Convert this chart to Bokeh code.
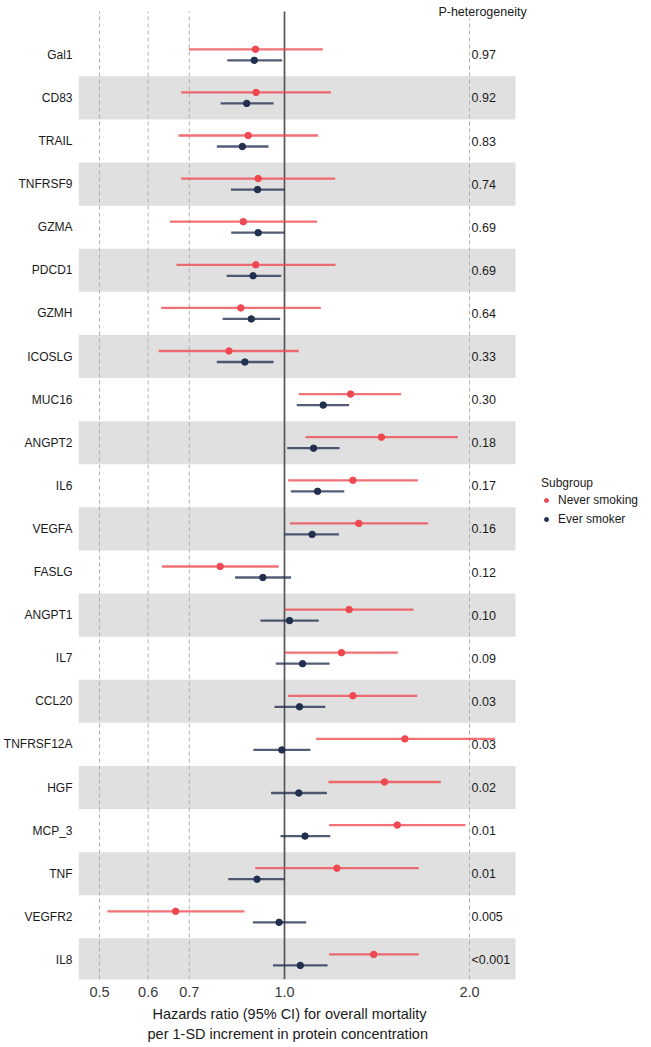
import math
from bokeh.plotting import figure
from bokeh.models import (ColumnDataSource, Range1d, FixedTicker, CustomJSTickFormatter,
                          Legend, LegendItem, Label, Title)
from bokeh.core.properties import value
from bokeh.embed import file_html
from bokeh.resources import INLINE

# ---------------- data ----------------
proteins = ["Gal1", "CD83", "TRAIL", "TNFRSF9", "GZMA", "PDCD1", "GZMH", "ICOSLG",
            "MUC16", "ANGPT2", "IL6", "VEGFA", "FASLG", "ANGPT1", "IL7", "CCL20",
            "TNFRSF12A", "HGF", "MCP_3", "TNF", "VEGFR2", "IL8"]

never_hr = [0.897, 0.899, 0.873, 0.906, 0.857, 0.898, 0.849, 0.812, 1.281, 1.438, 1.292,
            1.321, 0.786, 1.274, 1.238, 1.292, 1.570, 1.455, 1.526, 1.217, 0.665, 1.397]
never_lo = [0.699, 0.679, 0.672, 0.679, 0.651, 0.667, 0.630, 0.624, 1.055, 1.082, 1.014,
            1.020, 0.632, 1.001, 1.001, 1.014, 1.126, 1.179, 1.182, 0.896, 0.515, 1.182]
never_hi = [1.154, 1.190, 1.134, 1.209, 1.130, 1.211, 1.146, 1.055, 1.548, 1.914, 1.648,
            1.713, 0.978, 1.622, 1.529, 1.644, 2.200, 1.796, 1.969, 1.653, 0.861, 1.653]

ever_hr = [0.893, 0.868, 0.854, 0.904, 0.906, 0.889, 0.883, 0.862, 1.156, 1.115, 1.132,
           1.109, 0.922, 1.019, 1.070, 1.058, 0.990, 1.055, 1.080, 0.902, 0.980, 1.061]
ever_lo = [0.807, 0.787, 0.776, 0.818, 0.819, 0.805, 0.793, 0.776, 1.047, 1.010, 1.024,
           1.001, 0.831, 0.914, 0.968, 0.963, 0.890, 0.951, 0.985, 0.810, 0.888, 0.958]
ever_hi = [0.991, 0.960, 0.942, 1.000, 1.000, 0.988, 0.984, 0.960, 1.274, 1.229, 1.251,
           1.226, 1.025, 1.137, 1.184, 1.165, 1.102, 1.172, 1.187, 1.000, 1.085, 1.175]

p_het = ["0.97", "0.92", "0.83", "0.74", "0.69", "0.69", "0.64", "0.33", "0.30", "0.18",
         "0.17", "0.16", "0.12", "0.10", "0.09", "0.03", "0.03", "0.02", "0.01", "0.01",
         "0.005", "<0.001"]

x_ticks = [0.5, 0.6, 0.7, 1.0, 2.0]
dashed_refs = [0.5, 0.6, 0.7, 2.0]
null_ref = 1.0
subgroups = ["Never smoking", "Ever smoker"]
x_title_lines = ["Hazards ratio (95% CI) for overall mortality",
                 "per 1-SD increment in protein concentration"]
p_header = "P-heterogeneity"
legend_title = "Subgroup"

# ---------------- layout ----------------
n = len(proteins)
ys = [n - 1 - i for i in range(n)]
off = 0.128

FW, FH = 572, 979          # frame size
left_border = 77
px_per_ln = 266.9
x_one_px = 206             # frame px of HR = 1.0
x_start = math.exp((0 - x_one_px) / px_per_ln)
x_end = math.exp((FW - x_one_px) / px_per_ln)
band_right = math.exp((437 - x_one_px) / px_per_ln)
row_px = 43.1
first_row_px = 54.3
y_hi = 21 + first_row_px / row_px
y_lo = y_hi - FH / row_px
line_top = 21 + (first_row_px - 11) / row_px

FONT = "Liberation Sans"
RED = "#EE4850"
NAVY = "#22304F"
TXT = "#1A1A1A"

p = figure(frame_width=FW, frame_height=FH, x_axis_type="log",
           x_range=Range1d(x_start, x_end), y_range=Range1d(y_lo, y_hi),
           min_border_left=left_border, min_border_right=0, min_border_top=0,
           min_border_bottom=0, output_backend="svg", toolbar_location=None)
p.outline_line_color = None
p.grid.visible = False
p.background_fill_color = "white"

# bands
band_y = [ys[i] for i in range(n) if i % 2 == 1]
p.quad(left=x_start, right=band_right, bottom=[y - 0.5 for y in band_y],
       top=[y + 0.5 for y in band_y], fill_color="#E0E0E0", line_color=None)

# reference lines
p.segment(x0=dashed_refs, x1=dashed_refs, y0=y_lo, y1=line_top,
          line_color="#B0B0B0", line_width=1, line_dash="4 3")
p.segment(x0=[null_ref], x1=[null_ref], y0=y_lo, y1=line_top,
          line_color="#555555", line_width=1.7)

src_never = ColumnDataSource(dict(y=[y + off for y in ys], hr=never_hr, lo=never_lo, hi=never_hi))
src_ever = ColumnDataSource(dict(y=[y - off for y in ys], hr=ever_hr, lo=ever_lo, hi=ever_hi))

p.segment(x0="lo", x1="hi", y0="y", y1="y", source=src_never,
          line_color=RED, line_alpha=0.78, line_width=2.3)
p.segment(x0="lo", x1="hi", y0="y", y1="y", source=src_ever,
          line_color=NAVY, line_alpha=0.78, line_width=2.3)
r_never = p.scatter(x="hr", y="y", source=src_never, size=6.5, fill_color=RED, line_color=RED)
r_ever = p.scatter(x="hr", y="y", source=src_ever, size=6.5, fill_color=NAVY, line_color=NAVY)

# p-heterogeneity column
p.text(x=[2.0] * n, y=ys, text=p_het, x_offset=2, text_baseline="middle", text_align="left",
       text_font=value(FONT), text_font_size=value("12.5px"), text_color=TXT)
p.add_layout(Label(x=2.10, y=line_top, text=p_header, text_align="center",
                   text_baseline="middle", text_font=FONT, text_font_size="12.5px",
                   text_color=TXT, background_fill_color="white"))

# axes
xa = p.xaxis[0]
xa.ticker = FixedTicker(ticks=x_ticks)
xa.formatter = CustomJSTickFormatter(code="return tick.toFixed(1)")
xa.axis_line_color = None
xa.major_tick_line_color = None
xa.minor_tick_line_color = None
xa.major_tick_out = 0
xa.major_label_standoff = 7
xa.major_label_text_font = FONT
xa.major_label_text_font_size = "14.5px"
xa.major_label_text_color = "#3A3A3A"

ya = p.yaxis[0]
ya.ticker = FixedTicker(ticks=ys)
ya.major_label_overrides = {y: name for y, name in zip(ys, proteins)}
ya.axis_line_color = None
ya.major_tick_line_color = None
ya.minor_tick_line_color = None
ya.major_tick_out = 0
ya.major_label_standoff = 6
ya.major_label_text_font = FONT
ya.major_label_text_font_size = "12px"
ya.major_label_text_color = TXT

# x title (two lines, stacked below the axis)
for t, off_px, so, va in zip(x_title_lines, [74, 69], [8, 0], ["bottom", "top"]):
    p.add_layout(Title(text=t, align="left", offset=off_px, standoff=so, vertical_align=va,
                       text_font=FONT, text_font_size="14.5px", text_font_style="normal",
                       text_color=TXT), "below")

# legend
legend = Legend(items=[LegendItem(label=subgroups[0], renderers=[r_never]),
                       LegendItem(label=subgroups[1], renderers=[r_ever])],
                title=legend_title, location=(463, FH - 527))
legend.glyph_width = 10
legend.glyph_height = 16
legend.label_height = 16
legend.label_standoff = 7
legend.spacing = 3
legend.padding = 0
legend.margin = 0
legend.title_standoff = 2
legend.border_line_color = None
legend.background_fill_alpha = 0
legend.label_text_font = FONT
legend.label_text_font_size = "12px"
legend.label_text_color = TXT
legend.title_text_font = FONT
legend.title_text_font_size = "12px"
legend.title_text_font_style = "normal"
legend.title_text_color = TXT
p.add_layout(legend)

open("out.html", "w").write(file_html(p, INLINE))
